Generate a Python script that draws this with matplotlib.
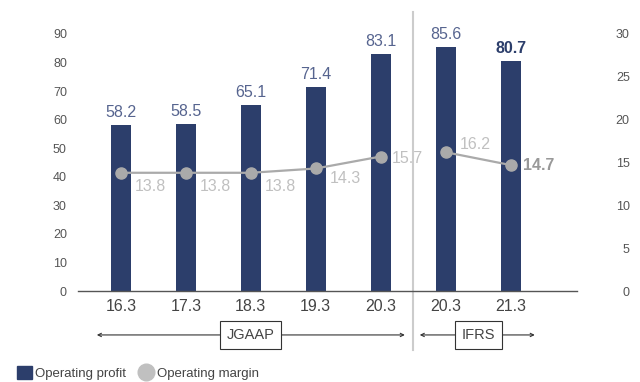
import matplotlib.pyplot as plt
from matplotlib.patches import Patch
from matplotlib.lines import Line2D

plt.rcParams['font.family'] = ['Liberation Sans', 'DejaVu Sans']

years = ['16.3', '17.3', '18.3', '19.3', '20.3', '20.3', '21.3']
profit = [58.2, 58.5, 65.1, 71.4, 83.1, 85.6, 80.7]
margin = [13.8, 13.8, 13.8, 14.3, 15.7, 16.2, 14.7]
standards = ['JGAAP', 'IFRS']

NAVY = '#2c3e6b'
LABEL_BLUE = '#56648f'
GRAY = '#aaaaaa'
GRAY_TXT = '#c0c0c0'
TICK = '#555555'

fig = plt.figure(figsize=(6.4, 3.82), dpi=100)
ax = fig.add_axes([78 / 640, 91 / 382, 499 / 640, 257 / 382])
ax2 = ax.twinx()

x = list(range(len(years)))
ax.bar(x, profit, width=0.31, color=NAVY, zorder=2)
ax.set_xlim(-0.66, 7.02)
ax.set_ylim(0, 90)
ax.set_yticks(range(0, 91, 10))
ax.set_xticks(x)
ax.set_xticklabels(years, fontsize=11.5, color='#444444')

for i, v in enumerate(profit):
    last = i == len(profit) - 1
    ax.annotate(f'{v:.1f}', (i, v), xytext=(0, 5), textcoords='offset pixels',
                ha='center', va='bottom', fontsize=11.5,
                color=NAVY if last else LABEL_BLUE,
                fontweight='bold' if last else 'normal')

# margin line: separate segments for JGAAP and IFRS
ax2.set_ylim(0, 30)
ax2.set_yticks(range(0, 31, 5))
ax2.plot(x[:5], margin[:5], color=GRAY, lw=1.6, marker='o', ms=8, zorder=3)
ax2.plot(x[5:], margin[5:], color=GRAY, lw=1.6, marker='o', ms=8, zorder=3)

offsets = [(14, -14), (14, -14), (14, -14), (14, -10), (11, -2), (14, 8), (12, 0)]
for i, v in enumerate(margin):
    last = i == len(margin) - 1
    ax2.annotate(f'{v:.1f}', (i, v), xytext=offsets[i], textcoords='offset pixels',
                 ha='left', va='center', fontsize=11.5,
                 color='#999999' if last else GRAY_TXT,
                 fontweight='bold' if last else 'normal')

for a in (ax, ax2):
    for s in a.spines.values():
        s.set_visible(False)
    a.tick_params(length=0)
ax.spines['bottom'].set_visible(True)
ax.spines['bottom'].set_color('#555555')
ax.spines['bottom'].set_linewidth(1)
ax.tick_params(axis='y', labelsize=9, labelcolor=TICK, pad=8)
ax.tick_params(axis='x', pad=6)
ax2.tick_params(axis='y', labelsize=9, labelcolor=TICK, pad=38)
for lab in ax2.get_yticklabels():
    lab.set_ha('right')

# divider between accounting standards
trans = ax.get_xaxis_transform()
ax.plot([4.49, 4.49], [1.086, -0.23], transform=trans, color='#cccccc',
        lw=1.5, clip_on=False, zorder=1)

# standard brackets under the axis
spans = [(-0.37, 4.37, 2.0), (4.6, 6.37, 5.5)]
for (x0, x1, xc), name in zip(spans, standards):
    ax.annotate('', xy=(x0, -0.171), xytext=(x1, -0.171), xycoords=trans,
                textcoords=trans,
                arrowprops=dict(arrowstyle='<->', lw=0.8, color='#333333',
                                shrinkA=0, shrinkB=0, mutation_scale=6))
    ax.text(xc, -0.171, name, transform=trans, ha='center', va='center',
            fontsize=10.5, color='#444444',
            bbox=dict(boxstyle='square,pad=0.45', fc='white', ec='#333333', lw=0.8))

handles = [Patch(color=NAVY),
           Line2D([], [], color=GRAY_TXT, marker='o', ls='none', ms=12)]
fig.legend(handles, ['Operating profit', 'Operating margin'], loc='lower left',
           bbox_to_anchor=(0.008, -0.026), ncol=2, frameon=False, fontsize=9.5,
           handlelength=1.1, handleheight=1.1, handletextpad=0.3,
           columnspacing=0.9, labelcolor='#444444')

fig.savefig('out.png', dpi=100)
